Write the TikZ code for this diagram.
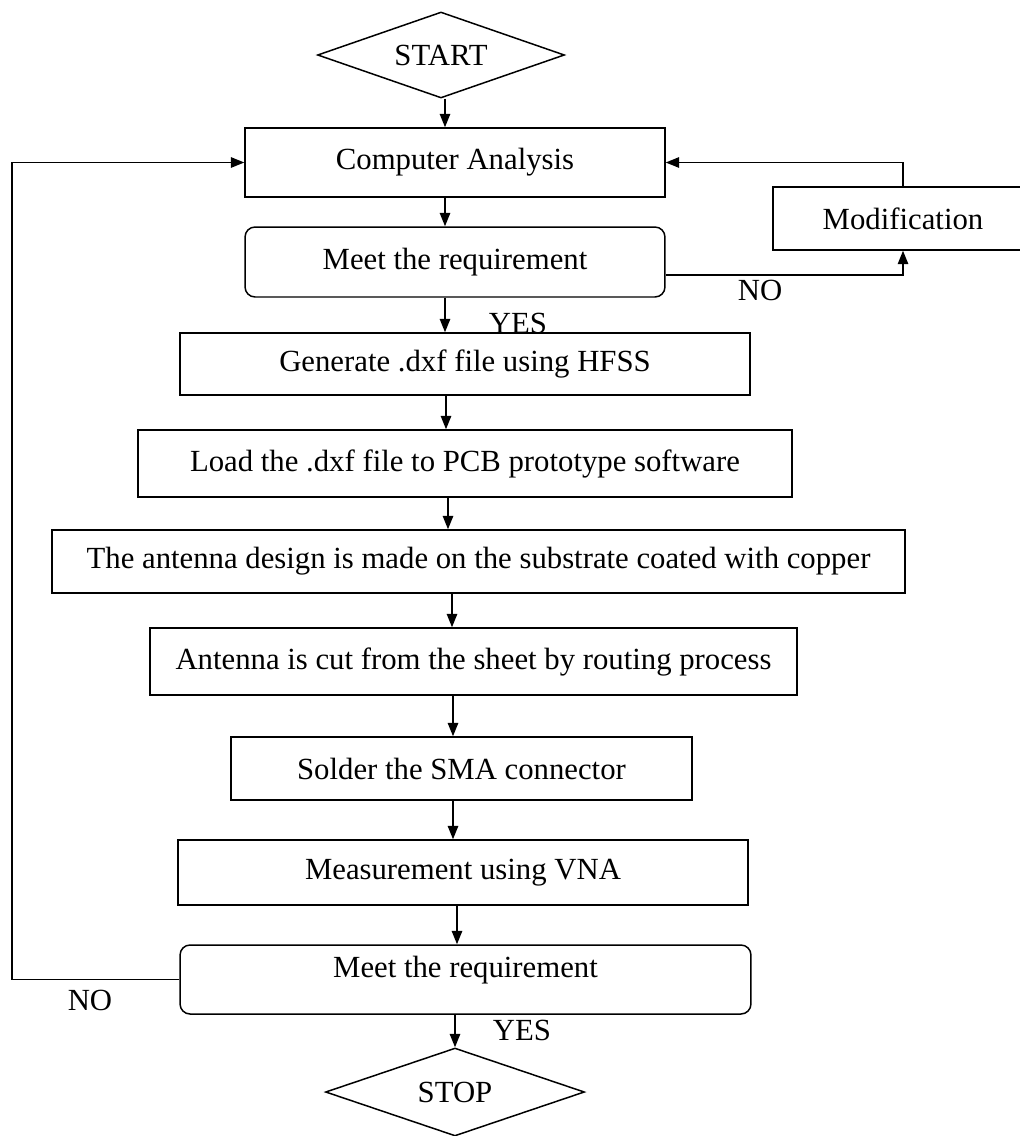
\documentclass[tikz,border=0pt]{standalone}
\usepackage{fontspec}
\setmainfont{Liberation Serif}
\usetikzlibrary{shapes.geometric,arrows.meta}
\tikzset{%
  stepbox/.style  = {shape=rectangle, draw, align=center, inner sep=2pt},%
  check/.style    = {stepbox, rounded corners=0.2cm},%
  terminal/.style = {shape=diamond, draw, inner sep=0pt, aspect=2.9},%
  flow/.style     = {-{Triangle[length=0.27cm,width=0.21cm]}}%
}

\begin{document}
\begin{tikzpicture}[x=0.02cm,y=-0.02cm,line width=0.85pt,
	every node/.style = {font=\fontsize{17.5}{21}\selectfont}]
	\useasboundingbox (0,0) rectangle (1019,1136);
	% main column
	\node [terminal,minimum width=4.94cm,minimum height=1.72cm] (start) at (441,55) {START};
	\node [stepbox,minimum width=8.4cm,minimum height=1.38cm] (ca) at (455,162.5) {Computer Analysis};
	\node [check,minimum width=8.4cm,minimum height=1.4cm] (meet1) at (455,262) {Meet the requirement};
	\node [stepbox,minimum width=11.4cm,minimum height=1.24cm] (gen) at (465,364) {Generate .dxf file using HFSS};
	\node [stepbox,minimum width=13.08cm,minimum height=1.34cm] (load) at (465,463.5) {Load the .dxf file to PCB prototype software};
	\node [stepbox,minimum width=17.06cm,minimum height=1.26cm] (design) at (478.5,561.5) {The antenna design is made on the substrate coated with copper};
	\node [stepbox,minimum width=12.94cm,minimum height=1.34cm] (cut) at (473.5,661.5) {Antenna is cut from the sheet by routing process};
	\node [stepbox,minimum width=9.22cm,minimum height=1.26cm] (solder) at (461.5,768.5) {Solder the SMA connector};
	\node [stepbox,minimum width=11.4cm,minimum height=1.3cm] (measure) at (463,872.5) {Measurement using VNA};
	\node [check,minimum width=11.42cm,minimum height=1.38cm,text height=0.42cm,text depth=0.52cm] (meet2) at (465.5,979.5) {Meet the requirement};
	\node [terminal,minimum width=5.18cm,minimum height=1.76cm] (stop) at (455,1092) {STOP};
	% side box
	\node [stepbox,minimum width=5.2cm,minimum height=1.26cm] (mod) at (903,218.5) {Modification};
	% arrows down the column
	\foreach \a/\b/\x in {start/ca/445, ca/meet1/445, meet1/gen/445, gen/load/446,
		load/design/448, design/cut/452, cut/solder/453, solder/measure/453,
		measure/meet2/457, meet2/stop/455}
		\draw [flow] (\a.south -| \x,0) -- (\b.north -| \x,0);
	% loops
	\draw [flow] ([yshift=-0.26cm]meet1.east) -| (mod.south);
	\draw [flow] (mod.north) |- (ca.east);
	\coordinate (back) at (12,0);
	\draw [flow] (meet2.west) -| (back |- ca.west) -- (ca.west);
	% labels
	\node (no1) at (760,290) {NO};
	\node (yes1) at (518,323) {YES};
	\node (no2) at (90,1000) {NO};
	\node (yes2) at (522,1030) {YES};
\end{tikzpicture}
\end{document}
